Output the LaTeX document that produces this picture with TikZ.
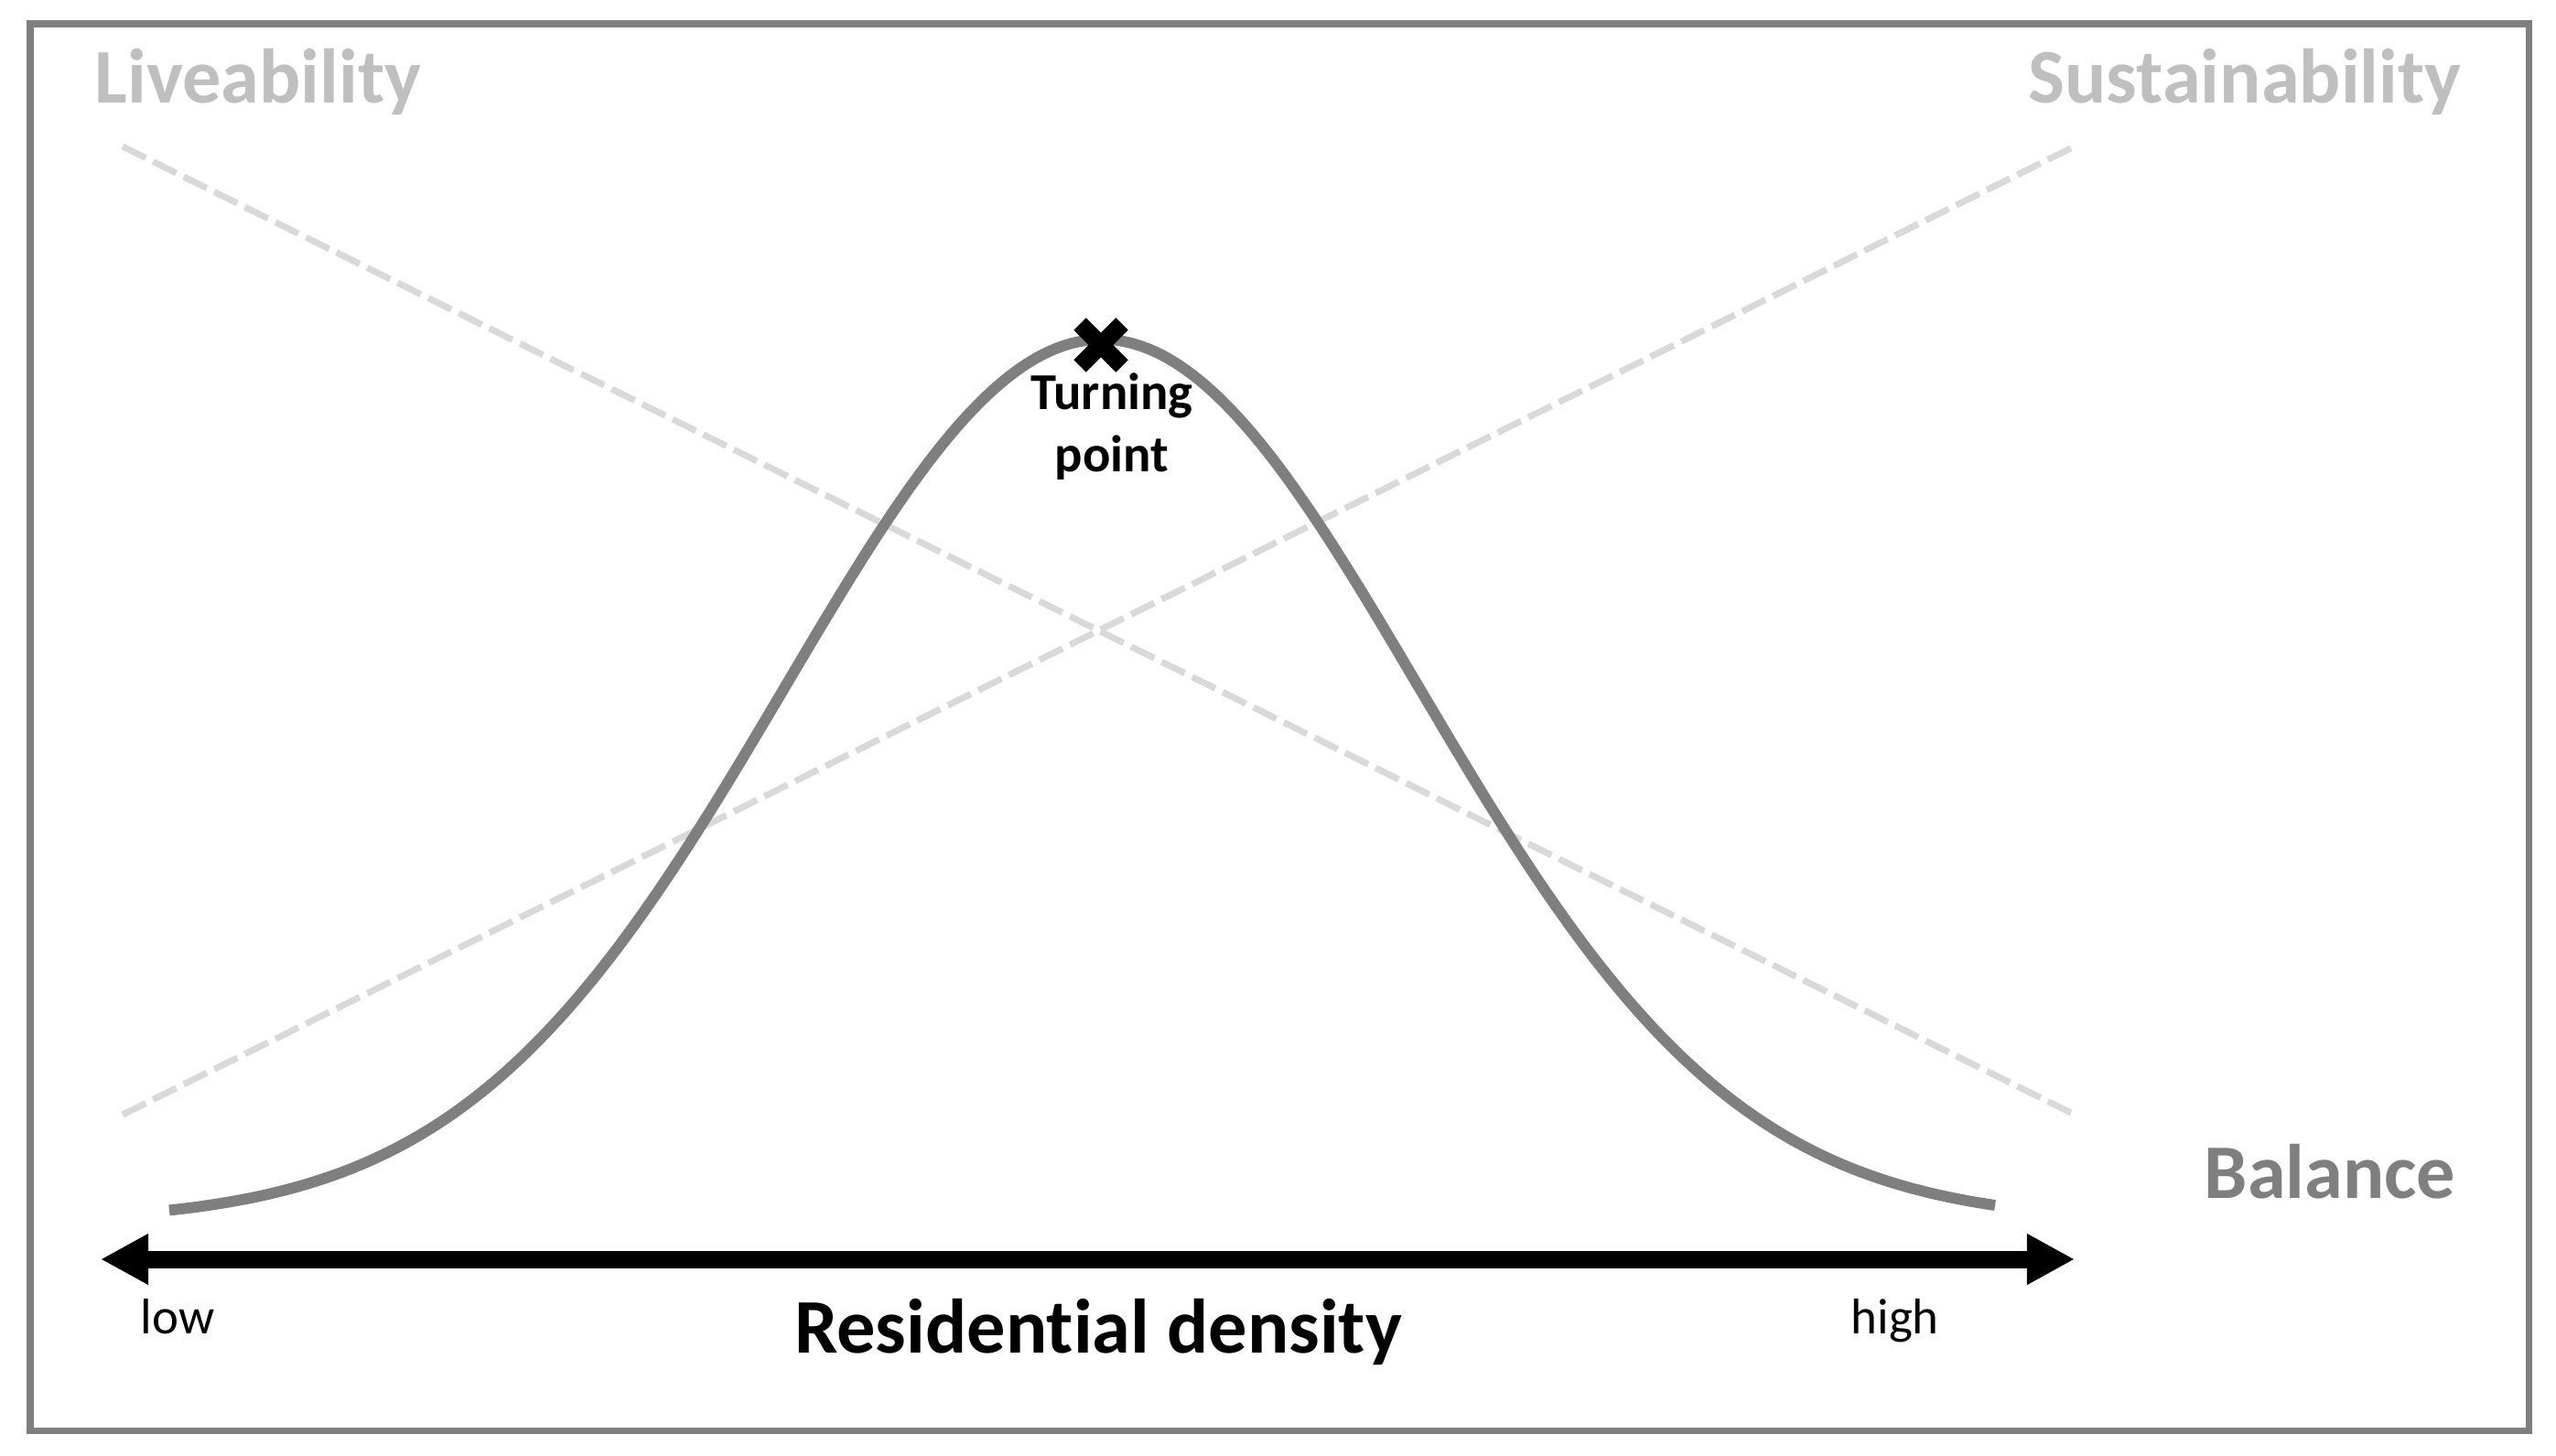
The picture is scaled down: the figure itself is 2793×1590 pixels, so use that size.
\documentclass[tikz,border=0pt]{standalone}
\usepackage{fontspec}
\setmainfont[Ligatures=NoCommon]{Carlito}
\usetikzlibrary{arrows.meta,calc}
\definecolor{frameGray}{HTML}{7F7F7F}
\definecolor{titleGray}{HTML}{BFBFBF}
\definecolor{dashGray}{HTML}{D9D9D9}
\tikzset{
  frame/.style={draw=frameGray, line width=2pt},
  bell/.style={draw=frameGray, line width=3.4pt},
  trendline/.style={draw=dashGray, line width=2pt, dash pattern=on 8pt off 2.6pt},
  axisline/.style={draw=black, line width=5.4pt, {Triangle[length=0.52cm,width=0.52cm]}-{Triangle[length=0.52cm,width=0.52cm]}},
  bigtitle/.style={inner sep=0pt, font=\fontsize{24}{29}\selectfont\bfseries},
  smalllabel/.style={inner sep=0pt, font=\fontsize{15.6}{19}\selectfont},
  tplabel/.style={inner sep=0pt, font=\fontsize{16.1}{19}\selectfont\bfseries},
  crossarm/.style={draw=black, line width=5.4pt, line cap=butt}
}
\begin{document}
\begin{tikzpicture}[x=0.01cm, y=-0.01cm]
\useasboundingbox (0,0) rectangle (2793,1590);
\fill[white] (0,0) rectangle (2793,1590);
% frame
\draw[frame] (33,26) rectangle (2763,1563);
% dashed trend lines
\coordinate (liveTop) at (134,160);
\coordinate (liveBot) at (2267,1218);
\coordinate (sustBot) at (134,1218);
\coordinate (sustTop) at (2267,160);
\draw[trendline] (liveTop) -- (liveBot);
\draw[trendline] (sustBot) -- (sustTop);
% bell curve
\draw[bell] plot[domain=185:2180, samples=240, smooth] (\x, {1335-964*exp(-0.5*((\x-1204)/346)^2)});
% turning point cross
\coordinate (tp) at (1203,377);
\draw[crossarm] ($(tp)+(-23,-23)$) -- ($(tp)+(23,23)$);
\draw[crossarm] ($(tp)+(-23,23)$) -- ($(tp)+(23,-23)$);
% axis
\coordinate (lo) at (110,1376);
\coordinate (hi) at (2267,1376);
\draw[axisline] (lo) -- (hi);
% texts
\node[bigtitle, text=titleGray, anchor=base west] (live) at (103,112) {Liveability};
\node[bigtitle, text=titleGray, anchor=base west] (sust) at (2216,112) {Sustainability};
\node[bigtitle, text=frameGray, anchor=base west] (bal) at (2408,1309) {Balance};
\node[bigtitle, text=black, anchor=base] (resd) at (1200,1478) {Residential density};
\node[smalllabel, anchor=base west] (low) at (153,1457) {low};
\node[smalllabel, anchor=base west] (high) at (2022,1457) {high};
\node[tplabel, anchor=base] (turn1) at (1215,447) {Turning};
\node[tplabel, anchor=base] (turn2) at (1215,515) {point};
\end{tikzpicture}
\end{document}
